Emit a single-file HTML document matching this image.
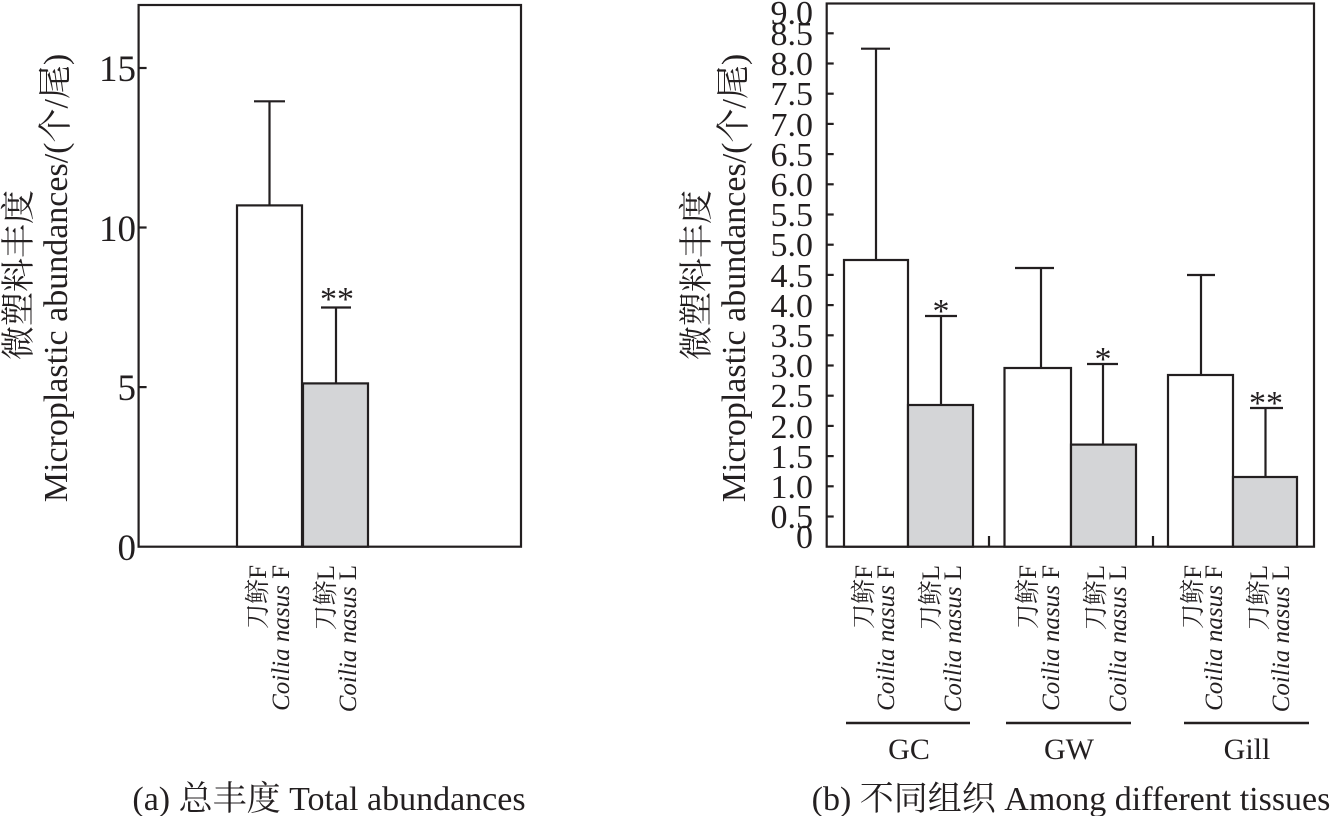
<!DOCTYPE html>
<html><head><meta charset="utf-8"><style>
html,body{margin:0;padding:0;background:#fff;}
svg text{font-family:"Liberation Serif","Noto Serif CJK SC","Noto Sans CJK SC",serif;fill:#231f20;}
</style></head><body>
<svg width="1333" height="816" viewBox="0 0 1333 816" xmlns="http://www.w3.org/2000/svg">
<g stroke="#231f20" stroke-width="2.2" fill="none">
<rect x="138.6" y="5" width="382.4" height="541.7"/>
<line x1="138.6" y1="387.1" x2="146.6" y2="387.1"/>
<line x1="138.6" y1="227.5" x2="146.6" y2="227.5"/>
<line x1="138.6" y1="68" x2="146.6" y2="68"/>
<rect x="237" y="205.4" width="65" height="341.3" fill="#fff"/>
<rect x="303" y="383.4" width="65" height="163.3" fill="#d4d5d7"/>
<line x1="269.5" y1="205.4" x2="269.5" y2="101.3"/><line x1="254" y1="101.3" x2="285" y2="101.3"/>
<line x1="336" y1="383.4" x2="336" y2="307.5"/><line x1="321" y1="307.5" x2="351" y2="307.5"/>
<rect x="826.7" y="3.5" width="487.3" height="543.2"/>
<line x1="826.7" y1="516.5" x2="833.7" y2="516.5"/><line x1="826.7" y1="486.3" x2="833.7" y2="486.3"/>
<line x1="826.7" y1="456.1" x2="833.7" y2="456.1"/><line x1="826.7" y1="425.9" x2="833.7" y2="425.9"/>
<line x1="826.7" y1="395.7" x2="833.7" y2="395.7"/><line x1="826.7" y1="365.5" x2="833.7" y2="365.5"/>
<line x1="826.7" y1="335.3" x2="833.7" y2="335.3"/><line x1="826.7" y1="305.1" x2="833.7" y2="305.1"/>
<line x1="826.7" y1="274.9" x2="833.7" y2="274.9"/><line x1="826.7" y1="244.7" x2="833.7" y2="244.7"/>
<line x1="826.7" y1="214.5" x2="833.7" y2="214.5"/><line x1="826.7" y1="184.3" x2="833.7" y2="184.3"/>
<line x1="826.7" y1="154.1" x2="833.7" y2="154.1"/><line x1="826.7" y1="123.9" x2="833.7" y2="123.9"/>
<line x1="826.7" y1="93.7" x2="833.7" y2="93.7"/><line x1="826.7" y1="63.5" x2="833.7" y2="63.5"/>
<line x1="826.7" y1="33.3" x2="833.7" y2="33.3"/>
<line x1="989" y1="546.7" x2="989" y2="536"/><line x1="1153" y1="546.7" x2="1153" y2="536"/>
<rect x="844" y="260" width="64" height="286.7" fill="#fff"/>
<rect x="908" y="405" width="65" height="141.7" fill="#d4d5d7"/>
<rect x="1004.5" y="368" width="66.5" height="178.7" fill="#fff"/>
<rect x="1071" y="444.6" width="65" height="102.1" fill="#d4d5d7"/>
<rect x="1168" y="375" width="65" height="171.7" fill="#fff"/>
<rect x="1233" y="477" width="64" height="69.7" fill="#d4d5d7"/>
<line x1="876" y1="260" x2="876" y2="48.7"/><line x1="861" y1="48.7" x2="890" y2="48.7"/>
<line x1="941" y1="405" x2="941" y2="316"/><line x1="925" y1="316" x2="957" y2="316"/>
<line x1="1041" y1="368" x2="1041" y2="268"/><line x1="1015" y1="268" x2="1054" y2="268"/>
<line x1="1103" y1="444.6" x2="1103" y2="364"/><line x1="1087" y1="364" x2="1118" y2="364"/>
<line x1="1201" y1="375" x2="1201" y2="275"/><line x1="1187" y1="275" x2="1215" y2="275"/>
<line x1="1265.5" y1="477" x2="1265.5" y2="408"/><line x1="1250" y1="408" x2="1283" y2="408"/>
<line x1="846" y1="723" x2="970" y2="723" stroke-width="2.5"/>
<line x1="1006" y1="723" x2="1131" y2="723" stroke-width="2.5"/>
<line x1="1184" y1="723" x2="1309" y2="723" stroke-width="2.5"/>
</g>
<g font-size="37" text-anchor="end">
<text x="136" y="560">0</text><text x="136" y="400">5</text><text x="136" y="241">10</text><text x="136" y="81">15</text>
</g>
<text x="337" y="310" font-size="34" text-anchor="middle">**</text>
<g font-size="34" text-anchor="end">
<text x="813" y="548">0</text><text x="813" y="528">0.5</text><text x="813" y="498">1.0</text><text x="813" y="468">1.5</text>
<text x="813" y="438">2.0</text><text x="813" y="407">2.5</text><text x="813" y="377">3.0</text><text x="813" y="347">3.5</text>
<text x="813" y="317">4.0</text><text x="813" y="287">4.5</text><text x="813" y="256">5.0</text><text x="813" y="226">5.5</text>
<text x="813" y="196">6.0</text><text x="813" y="166">6.5</text><text x="813" y="136">7.0</text><text x="813" y="105">7.5</text>
<text x="813" y="75">8.0</text><text x="813" y="45">8.5</text><text x="813" y="24">9.0</text>
</g>
<g font-size="34" text-anchor="middle">
<text x="941" y="322">*</text><text x="1103" y="370">*</text><text x="1266" y="414">**</text>
</g>
<g font-size="34" text-anchor="middle">
<text transform="translate(67,278) rotate(-90)">Microplastic abundances/(个/尾)</text>
<text transform="translate(30,275) rotate(-90)">微塑料丰度</text>
<text transform="translate(745,278) rotate(-90)">Microplastic abundances/(个/尾)</text>
<text transform="translate(708,275) rotate(-90)">微塑料丰度</text>
</g>
<g font-size="25" text-anchor="end">
<text transform="translate(266,565) rotate(-90)">刀鲚F</text>
<text transform="translate(289,565) rotate(-90)"><tspan font-style="italic">Coilia nasus</tspan> F</text>
<text transform="translate(334,565) rotate(-90)">刀鲚L</text>
<text transform="translate(356,565) rotate(-90)"><tspan font-style="italic">Coilia nasus</tspan> L</text>
<text transform="translate(872,565) rotate(-90)">刀鲚F</text>
<text transform="translate(894,565) rotate(-90)"><tspan font-style="italic">Coilia nasus</tspan> F</text>
<text transform="translate(939,565) rotate(-90)">刀鲚L</text>
<text transform="translate(961,565) rotate(-90)"><tspan font-style="italic">Coilia nasus</tspan> L</text>
<text transform="translate(1036,565) rotate(-90)">刀鲚F</text>
<text transform="translate(1059,565) rotate(-90)"><tspan font-style="italic">Coilia nasus</tspan> F</text>
<text transform="translate(1104,565) rotate(-90)">刀鲚L</text>
<text transform="translate(1126,565) rotate(-90)"><tspan font-style="italic">Coilia nasus</tspan> L</text>
<text transform="translate(1201,565) rotate(-90)">刀鲚F</text>
<text transform="translate(1222,565) rotate(-90)"><tspan font-style="italic">Coilia nasus</tspan> F</text>
<text transform="translate(1267,565) rotate(-90)">刀鲚L</text>
<text transform="translate(1289,565) rotate(-90)"><tspan font-style="italic">Coilia nasus</tspan> L</text>
</g>
<g font-size="30" text-anchor="middle">
<text x="909" y="759">GC</text><text x="1069" y="759">GW</text><text x="1247" y="759">Gill</text>
</g>
<g font-size="34" text-anchor="middle">
<text x="329" y="810">(a) 总丰度 Total abundances</text>
<text x="1071" y="810">(b) 不同组织 Among different tissues</text>
</g>
</svg>
</body></html>
